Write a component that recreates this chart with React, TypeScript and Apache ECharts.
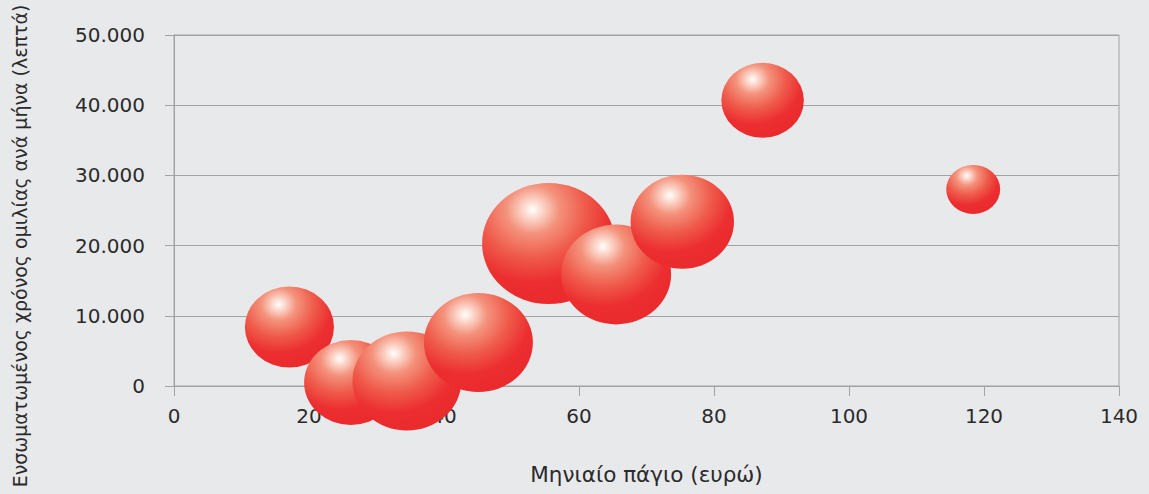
import React, { useEffect, useRef } from "react";
import * as echarts from "echarts";

const monthlyFee = [17.1, 26.2, 34.5, 45.1, 55.5, 65.5, 75.3, 87.2, 118.4];
const minutes = [8400, 500, 700, 6200, 20300, 15900, 23400, 40700, 28000];
const bubbleSize = [81, 85, 99, 99, 121, 100, 94, 75, 49];

const xTitle = "Μηνιαίο πάγιο (ευρώ)";
const yTitle = "Ενσωματωμένος χρόνος ομιλίας ανά μήνα (λεπτά)";

const FONT = "DejaVu Sans";
const TEXT = "#2b2b2b";
const GRID = "#a3a3a5";

function fmt(v: number): string {
  return String(v).replace(/\B(?=(\d{3})+(?!\d))/g, ".");
}

export default function App() {
  const ref = useRef<HTMLDivElement>(null);
  useEffect(() => {
    if (!ref.current) return;
    const chart = echarts.init(ref.current, undefined, { renderer: "svg" });
    const data = monthlyFee.map((x, i) => [x, minutes[i], bubbleSize[i]]);
    chart.setOption({
      animation: false,
      backgroundColor: "#e8e9eb",
      textStyle: { fontFamily: FONT },
      grid: {
        left: 174,
        right: 30,
        top: 35,
        bottom: 108,
        show: true,
        borderColor: GRID,
        borderWidth: 1,
        backgroundColor: "transparent",
      },
      xAxis: {
        type: "value",
        min: 0,
        max: 140,
        interval: 20,
        name: xTitle,
        nameLocation: "middle",
        nameGap: 77,
        nameTextStyle: { color: TEXT, fontSize: 21.5, fontFamily: FONT },
        axisLine: { show: true, lineStyle: { color: GRID, width: 1 } },
        axisTick: { show: true, length: 10, lineStyle: { color: GRID } },
        axisLabel: { color: TEXT, fontSize: 20, fontFamily: FONT, margin: 20 },
        splitLine: { show: false },
      },
      yAxis: {
        type: "value",
        min: 0,
        max: 50000,
        interval: 10000,
        axisLine: { show: true, lineStyle: { color: GRID, width: 1 } },
        axisTick: { show: true, length: 9, lineStyle: { color: GRID } },
        axisLabel: {
          color: TEXT,
          fontSize: 20,
          fontFamily: FONT,
          margin: 29,
          formatter: (v: number) => fmt(v),
        },
        splitLine: { show: true, lineStyle: { color: GRID, width: 1 } },
      },
      graphic: [
        {
          type: "text",
          x: 20,
          y: 246,
          rotation: Math.PI / 2,
          style: {
            text: yTitle,
            fill: TEXT,
            font: `19px "${FONT}"`,
            align: "center",
            verticalAlign: "middle",
          },
        },
      ],
      series: [
        {
          type: "scatter",
          data,
          symbol: "path://M0,50 A50,50 0 1,1 100,50 A50,50 0 1,1 0,50 Z",
          symbolSize: (val: number[]) => [val[2] * 1.1, val[2]],
          itemStyle: {
            opacity: 1,
            color: {
              type: "radial",
              x: 0.38,
              y: 0.22,
              r: 0.8,
              colorStops: [
                { offset: 0, color: "#ffffff" },
                { offset: 0.07, color: "#fde0d6" },
                { offset: 0.25, color: "#f4927c" },
                { offset: 0.5, color: "#ef5a4a" },
                { offset: 0.75, color: "#ec2e30" },
                { offset: 1, color: "#ea2a2d" },
              ],
            },
          },
          emphasis: { disabled: true },
        },
      ],
    });
    return () => chart.dispose();
  }, []);
  return (
    <div
      ref={ref}
      style={{ position: "fixed", left: 0, top: 0, width: 1149, height: 494 }}
    />
  );
}
